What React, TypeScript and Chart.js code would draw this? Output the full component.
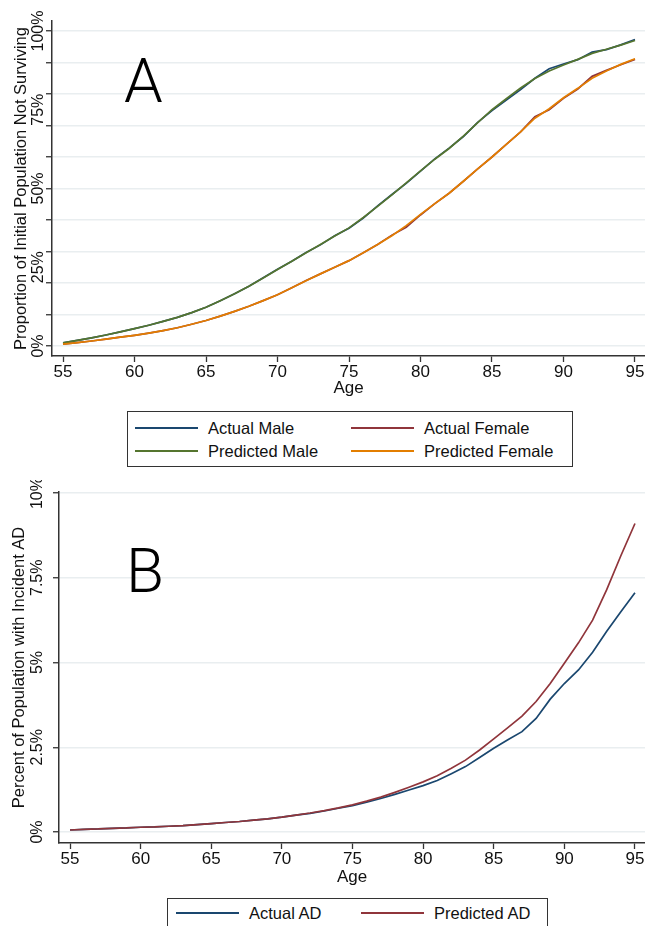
import React, { useEffect, useRef } from 'react';
import { Chart, registerables } from 'chart.js';

Chart.register(...registerables);

const FONT = "'Liberation Sans', Arial, Helvetica, sans-serif";
const LETTER_FONT = "300 62px Roboto, 'Liberation Sans', Arial, sans-serif";

// ---------- Panel A data ----------
const ages = [55, 56, 57, 58, 59, 60, 61, 62, 63, 64, 65, 66, 67, 68, 69, 70, 71, 72, 73, 74, 75,
  76, 77, 78, 79, 80, 81, 82, 83, 84, 85, 86, 87, 88, 89, 90, 91, 92, 93, 94, 95];

const actualMale = [1.0, 1.8, 2.6, 3.5, 4.5, 5.5, 6.6, 7.8, 9.1, 10.6, 12.3, 14.4, 16.6, 19.0, 21.7, 24.4, 26.9, 29.7, 32.1, 35.0, 37.4,
  40.6, 44.5, 48.1, 51.6, 55.5, 59.4, 62.8, 66.5, 71.0, 74.7, 78.1, 81.4, 85.0, 88.0, 89.5, 90.9, 93.3, 94.1, 95.6, 97.3];
const actualFemale = [0.6, 1.1, 1.6, 2.2, 2.8, 3.4, 4.1, 4.9, 5.8, 6.9, 8.1, 9.5, 11.0, 12.6, 14.4, 16.3, 18.5, 20.8, 22.9, 25.0, 27.1,
  29.6, 32.2, 35.2, 37.7, 41.6, 45.2, 48.5, 52.3, 56.2, 60.0, 64.0, 68.0, 72.8, 75.0, 78.6, 81.6, 85.6, 87.5, 89.3, 91.0];
const predictedMale = [1.0, 1.8, 2.6, 3.5, 4.5, 5.5, 6.6, 7.8, 9.1, 10.6, 12.3, 14.4, 16.6, 19.0, 21.6, 24.3, 26.9, 29.6, 32.2, 34.9, 37.5,
  40.8, 44.3, 48.0, 51.8, 55.6, 59.3, 62.7, 66.6, 70.9, 75.0, 78.5, 81.9, 84.9, 87.3, 89.2, 91.0, 92.9, 94.2, 95.5, 97.0];
const predictedFemale = [0.6, 1.1, 1.6, 2.2, 2.8, 3.4, 4.1, 4.9, 5.8, 6.9, 8.1, 9.5, 11.0, 12.6, 14.4, 16.3, 18.5, 20.7, 22.9, 25.0, 27.1,
  29.6, 32.2, 35.0, 38.2, 41.8, 45.2, 48.5, 52.3, 56.2, 60.0, 64.0, 68.0, 72.3, 75.3, 78.8, 81.8, 85.0, 87.3, 89.4, 91.2];

const xTicks = [55, 60, 65, 70, 75, 80, 85, 90, 95];
const yGridA = [0, 10, 20, 30, 40, 50, 60, 70, 80, 90, 100];
const yLabelValuesA = [0, 25, 50, 75, 100];
const yLabelTextA = ['0%', '25%', '50%', '75%', '100%'];

// ---------- Panel B data ----------
const actualAD = [0.06, 0.08, 0.09, 0.11, 0.12, 0.14, 0.15, 0.17, 0.19, 0.22, 0.25, 0.28, 0.31, 0.35, 0.39, 0.44, 0.50, 0.55, 0.62, 0.70, 0.78,
  0.88, 0.99, 1.11, 1.24, 1.37, 1.52, 1.72, 1.93, 2.20, 2.47, 2.72, 2.96, 3.35, 3.92, 4.38, 4.78, 5.30, 5.92, 6.50, 7.06];
const predictedAD = [0.06, 0.08, 0.09, 0.11, 0.12, 0.14, 0.15, 0.17, 0.19, 0.22, 0.25, 0.28, 0.31, 0.35, 0.39, 0.44, 0.50, 0.56, 0.63, 0.71, 0.80,
  0.91, 1.03, 1.17, 1.32, 1.48, 1.66, 1.88, 2.12, 2.42, 2.75, 3.08, 3.42, 3.85, 4.38, 4.98, 5.58, 6.25, 7.15, 8.15, 9.10];

const yTicksB = [0, 2.5, 5, 7.5, 10];
const yLabelTextB = ['0%', '2.5%', '5%', '7.5%', '10%'];

const NAVY = '#1a476f';
const MAROON = '#90353b';
const GREEN = '#55752f';
const ORANGE = '#e37e00';
const AXIS = '#333333';
const GRID = '#e9eef0';

const toPts = (vals: number[]) => ages.map((a, i) => ({ x: a, y: vals[i] }));

const line = (label: string, vals: number[], color: string, order: number) => ({
  label,
  data: toPts(vals),
  borderColor: color,
  backgroundColor: color,
  borderWidth: 1.7,
  pointRadius: 0,
  tension: 0,
  fill: false,
  order,
});

function makeOptions(cfg: any) {
  return {
    responsive: false,
    animation: false,
    events: [],
    layout: { padding: { top: cfg.padTop, left: 0, right: 0, bottom: 0 } },
    plugins: { legend: { display: false }, tooltip: { enabled: false } },
    scales: {
      x: {
        type: 'linear',
        min: cfg.xMin,
        max: cfg.xMax,
        afterBuildTicks: (s: any) => { s.ticks = xTicks.map(v => ({ value: v })); },
        afterFit: (s: any) => { s.height = cfg.xHeight; },
        grid: { drawOnChartArea: false, drawTicks: true, tickLength: 6, tickColor: AXIS, tickWidth: 1.3 },
        border: { display: true, color: AXIS, width: 1.5 },
        ticks: { color: '#111', padding: cfg.xTickPad, maxRotation: 0, minRotation: 0, autoSkip: false,
          font: { family: FONT, size: 17, lineHeight: 1.2 } },
        title: { display: true, text: 'Age', color: '#111', padding: { top: 0, bottom: cfg.titlePad },
          font: { family: FONT, size: 17, lineHeight: 1.2 } },
      },
      y: {
        type: 'linear',
        min: cfg.yMin,
        max: cfg.yMax,
        afterBuildTicks: (s: any) => { s.ticks = cfg.yGrid.map((v: number) => ({ value: v })); },
        afterFit: (s: any) => { s.width = cfg.yWidth; },
        grid: { color: GRID, lineWidth: 1.5, drawTicks: true, tickLength: 6, tickColor: AXIS, tickWidth: 1.3 },
        border: { display: true, color: AXIS, width: 1.5 },
        ticks: { display: false },
        title: { display: false },
      },
    },
  };
}

function makeTextPlugin(cfg: any) {
  return {
    id: 'panelText' + cfg.letter,
    afterDraw(chart: any) {
      const ctx = chart.ctx;
      const ys = chart.scales.y;
      const area = chart.chartArea;
      ctx.save();
      ctx.fillStyle = '#111';
      ctx.textAlign = 'center';
      ctx.textBaseline = 'middle';
      ctx.font = `16px ${FONT}`;
      cfg.labelValues.forEach((v: number, i: number) => {
        const py = ys.getPixelForValue(v);
        ctx.save();
        ctx.translate(cfg.labelX, py);
        ctx.rotate(-Math.PI / 2);
        ctx.fillText(cfg.labelText[i], 0, 0);
        ctx.restore();
      });
      ctx.save();
      ctx.translate(cfg.titleX, (area.top + area.bottom) / 2);
      ctx.rotate(-Math.PI / 2);
      ctx.font = `${cfg.titleSize}px ${FONT}`;
      ctx.fillText(cfg.yTitle, 0, 0);
      ctx.restore();
      ctx.font = LETTER_FONT;
      ctx.textAlign = 'left';
      ctx.textBaseline = 'alphabetic';
      ctx.fillStyle = '#000';
      ctx.fillText(cfg.letter, cfg.letterX, cfg.letterY);
      ctx.restore();
    },
  };
}

const legendText: React.CSSProperties = {
  position: 'absolute', fontFamily: FONT, fontSize: 16.5, lineHeight: '20px', color: '#111', whiteSpace: 'nowrap',
};

function LegendItem({ left, top, color, label, lineW }: { left: number; top: number; color: string; label: string; lineW: number }) {
  return (
    <>
      <div style={{ position: 'absolute', left, top: top - 1, width: lineW, height: 2, background: color }} />
      <div style={{ ...legendText, left: left + lineW + 10, top: top - 10 }}>{label}</div>
    </>
  );
}

export default function App() {
  const refA = useRef<HTMLCanvasElement>(null);
  const refB = useRef<HTMLCanvasElement>(null);

  useEffect(() => {
    Chart.defaults.font.family = FONT;
    const chartA = new Chart(refA.current as HTMLCanvasElement, {
      type: 'line',
      data: {
        datasets: [
          line('Actual Male', actualMale, NAVY, 3),
          line('Actual Female', actualFemale, MAROON, 2),
          line('Predicted Male', predictedMale, GREEN, 1),
          line('Predicted Female', predictedFemale, ORANGE, 0),
        ],
      },
      options: makeOptions({
        padTop: 21, xMin: 54.23, xMax: 95.7, yMin: -3.17, yMax: 103.17, xHeight: 44, yWidth: 52,
        xTickPad: 0, titlePad: 1.0, yGrid: yGridA,
      }) as any,
      plugins: [makeTextPlugin({
        letter: 'A', letterX: 124, letterY: 102, labelValues: yLabelValuesA, labelText: yLabelTextA,
        labelX: 39, titleX: 21, titleSize: 16.5, yTitle: 'Proportion of Initial Population Not Surviving',
      })],
    });
    const chartB = new Chart(refB.current as HTMLCanvasElement, {
      type: 'line',
      data: {
        datasets: [
          line('Actual AD', actualAD, NAVY, 1),
          line('Predicted AD', predictedAD, MAROON, 0),
        ],
      },
      options: makeOptions({
        padTop: 12, xMin: 54.22, xMax: 95.71, yMin: -0.324, yMax: 10.03, xHeight: 47, yWidth: 59,
        xTickPad: 0, titlePad: 2.0, yGrid: yTicksB,
      }) as any,
      plugins: [makeTextPlugin({
        letter: 'B', letterX: 126, letterY: 112, labelValues: yTicksB, labelText: yLabelTextB,
        labelX: 38, titleX: 19, titleSize: 16.5, yTitle: 'Percent of Population with Incident AD',
      })],
    });
    return () => { chartA.destroy(); chartB.destroy(); };
  }, []);

  return (
    <div style={{ position: 'absolute', left: 0, top: 0, width: 645, height: 926, overflow: 'hidden', background: '#fff' }}>
      <canvas ref={refA} width={645} height={400} style={{ position: 'absolute', left: 0, top: 0, width: 645, height: 400 }} />
      <canvas ref={refB} width={645} height={410} style={{ position: 'absolute', left: 0, top: 480, width: 645, height: 410 }} />
      <div style={{ position: 'absolute', left: 127, top: 411, width: 444, height: 54, border: `1px solid ${AXIS}` }} />
      <LegendItem left={135} top={428} color={NAVY} label="Actual Male" lineW={63} />
      <LegendItem left={351} top={428} color={MAROON} label="Actual Female" lineW={63} />
      <LegendItem left={135} top={451} color={GREEN} label="Predicted Male" lineW={63} />
      <LegendItem left={351} top={451} color={ORANGE} label="Predicted Female" lineW={63} />
      <div style={{ position: 'absolute', left: 167, top: 898, width: 379, height: 40, border: `1px solid ${AXIS}` }} />
      <LegendItem left={176} top={913} color={NAVY} label="Actual AD" lineW={63} />
      <LegendItem left={361} top={913} color={MAROON} label="Predicted AD" lineW={63} />
    </div>
  );
}
